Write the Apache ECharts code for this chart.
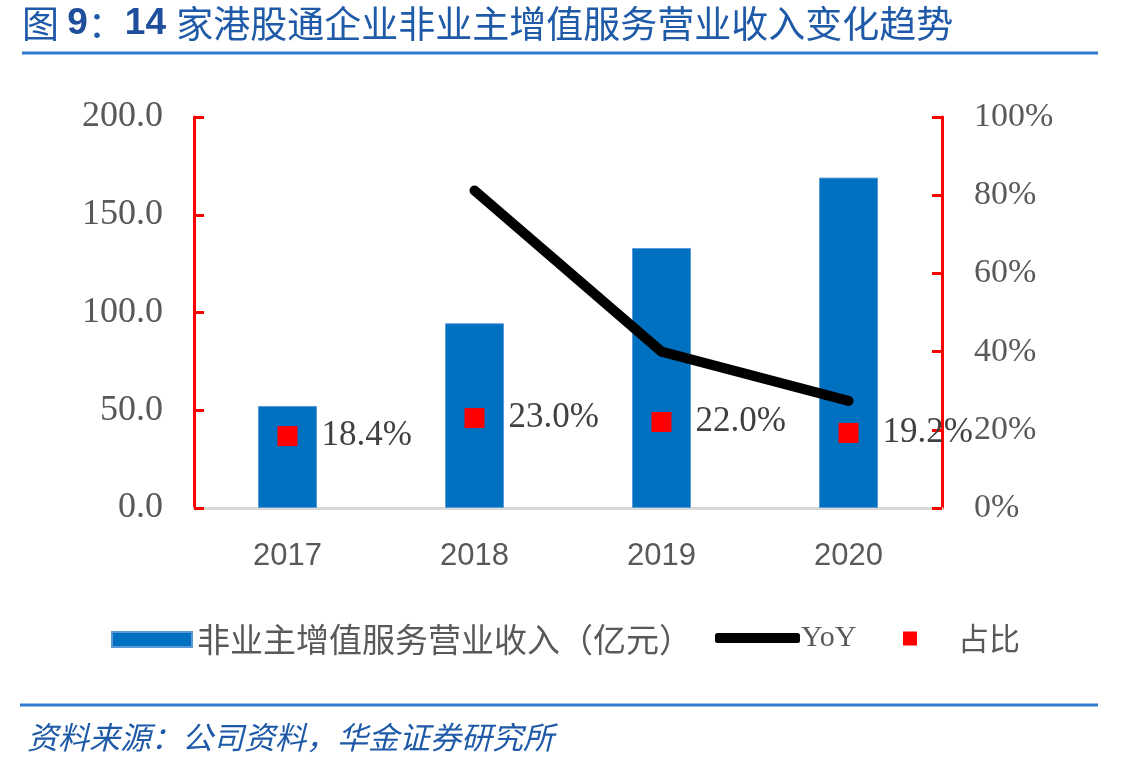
<!DOCTYPE html>
<html>
<head>
<meta charset="utf-8">
<script src="https://cdn.jsdelivr.net/npm/echarts@6/dist/echarts.min.js"></script>
<style>html,body{margin:0;padding:0;background:#fff;}#c{width:1145px;height:771px;}</style>
</head>
<body>
<div id="c"></div>
<script>
const categories = ['2017', '2018', '2019', '2020'];
const revenue = [52.2, 94.5, 133.0, 169.0];
const yoy = [null, 0.812, 0.400, 0.274];
const share = [0.184, 0.230, 0.220, 0.192];
const leftTicks = { min: 0, max: 200, interval: 50 };
const rightTicks = { min: 0, max: 1, interval: 0.2 };
const seriesNames = ['非业主增值服务营业收入（亿元）', 'YoY', '占比'];
const titleText = '家港股通企业非业主增值服务营业收入变化趋势';
const sourceText = '资料来源：公司资料，华金证券研究所';

const chart = echarts.init(document.getElementById('c'), null, { renderer: 'canvas' });
const serif = '"Liberation Serif", "DejaVu Serif", serif';
const cjk = '"Noto Sans CJK SC", sans-serif';
const red = '#FF0000';

const legendBase = {
  orient: 'horizontal',
  top: 618,
  selectedMode: false,
  textStyle: { fontSize: 33, color: '#595959', fontFamily: cjk }
};

chart.setOption({
  animation: false,
  backgroundColor: '#fff',
  grid: { left: 194, right: 203, top: 117, bottom: 263, containLabel: false },
  legend: [
    Object.assign({}, legendBase, { left: 106, itemWidth: 80, itemHeight: 15, itemGap: 10, data: [{ name: seriesNames[0], icon: 'rect' }] }),
    Object.assign({}, legendBase, { left: 710, itemWidth: 85, itemHeight: 10, data: [{ name: seriesNames[1], icon: 'roundRect' }], textStyle: { fontSize: 30, color: '#595959', fontFamily: serif, padding: [0, 0, 0, -4] } }),
    Object.assign({}, legendBase, { left: 898, itemWidth: 14, itemHeight: 14, data: [{ name: seriesNames[2], icon: 'rect' }], textStyle: { fontSize: 31, color: '#595959', fontFamily: cjk, padding: [0, 0, 0, 36] } })
  ],
  xAxis: {
    type: 'category',
    data: categories,
    axisLine: { lineStyle: { color: '#D9D9D9', width: 3 } },
    axisTick: { show: false },
    axisLabel: { fontSize: 31, color: '#595959', fontFamily: '"Liberation Sans", "DejaVu Sans", sans-serif', margin: 33 }
  },
  yAxis: [
    {
      type: 'value', min: leftTicks.min, max: leftTicks.max, interval: leftTicks.interval,
      axisLine: { show: true, lineStyle: { color: red, width: 3 } },
      axisTick: { show: true, inside: true, length: 10, lineStyle: { color: red, width: 3 } },
      splitLine: { show: false },
      axisLabel: { fontSize: 36, color: '#595959', fontFamily: serif, margin: 31, formatter: v => v.toFixed(1) }
    },
    {
      type: 'value', min: rightTicks.min, max: rightTicks.max, interval: rightTicks.interval,
      position: 'right',
      axisLine: { show: true, lineStyle: { color: red, width: 3 } },
      axisTick: { show: true, inside: true, length: 10, lineStyle: { color: red, width: 3 } },
      splitLine: { show: false },
      axisLabel: { fontSize: 34, color: '#595959', fontFamily: serif, margin: 32, formatter: v => Math.round(v * 100) + '%' }
    }
  ],
  series: [
    {
      name: seriesNames[0], type: 'bar', yAxisIndex: 0, data: revenue, barWidth: 59,
      itemStyle: { color: '#0070C0', borderColor: '#5B9BD5', borderWidth: 1 }
    },
    {
      name: seriesNames[1], type: 'line', yAxisIndex: 1, data: yoy, showSymbol: false, symbol: 'none',
      lineStyle: { color: '#000', width: 10, cap: 'round', join: 'round' },
      itemStyle: { color: '#000' }
    },
    {
      name: seriesNames[2], type: 'scatter', yAxisIndex: 1, data: share, symbol: 'rect', symbolSize: 20,
      itemStyle: { color: red, opacity: 1 },
      emphasis: { disabled: true },
      label: {
        show: true, position: 'right', distance: 24, fontSize: 35, color: '#404040', fontFamily: serif,
        formatter: p => (p.value * 100).toFixed(1) + '%'
      },
      z: 5
    }
  ],
  graphic: [
    {
      type: 'text', left: 22, top: 5,
      style: {
        text: '{a|图 }{b|9}{a|：}{b|14 }{a|' + titleText + '}',
        rich: {
          a: { fontSize: 37, fontFamily: cjk, fill: '#1F5AA8' },
          b: { fontSize: 37, fontFamily: '"Liberation Sans", sans-serif', fontWeight: 'bold', fill: '#1F4E9A' }
        }
      }
    },
    { type: 'line', shape: { x1: 22, y1: 53, x2: 1098, y2: 53 }, style: { stroke: '#2E7BCF', lineWidth: 3 } },
    { type: 'line', shape: { x1: 20, y1: 705, x2: 1098, y2: 705 }, style: { stroke: '#2E7BCF', lineWidth: 3 } },
    {
      type: 'text', left: 27, top: 722,
      style: { text: sourceText, font: 'italic 31px "Noto Sans CJK SC", sans-serif', fill: '#1F5AA8' }
    }
  ]
});
</script>
</body>
</html>
